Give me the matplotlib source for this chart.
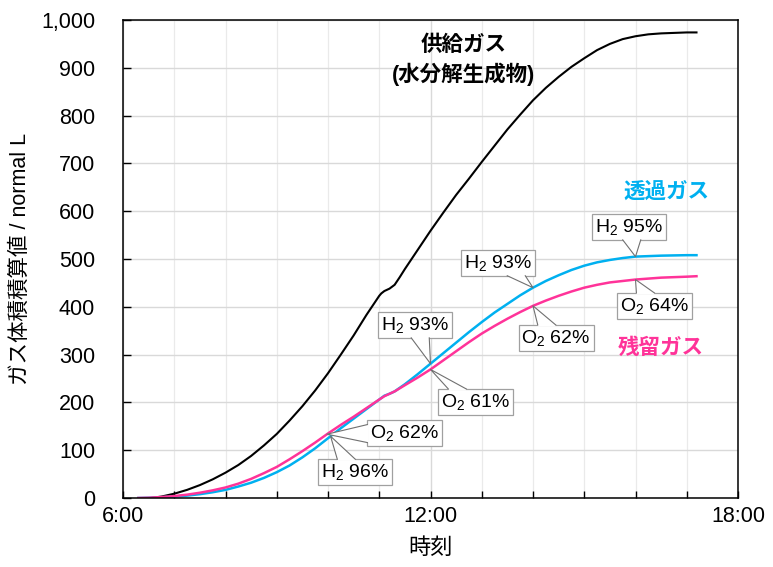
import numpy as np
import matplotlib
matplotlib.use("Agg")
import matplotlib.pyplot as plt
from matplotlib.ticker import MultipleLocator
from matplotlib.patches import Polygon
from matplotlib.lines import Line2D

plt.rcParams['font.family'] = ['Liberation Sans', 'Noto Sans CJK JP', 'DejaVu Sans']
plt.rcParams['mathtext.fontset'] = 'custom'
plt.rcParams['mathtext.rm'] = 'Liberation Sans'
plt.rcParams['mathtext.it'] = 'Liberation Sans:italic'
plt.rcParams['mathtext.bf'] = 'Liberation Sans:bold'

# ---- data (time in hours, cumulative volume in normal L) ----
supply_t = [6.55, 6.75, 7.0, 7.25, 7.5, 7.75, 8.0, 8.25, 8.5, 8.75, 9.0, 9.25, 9.5, 9.75,
            10.0, 10.25, 10.5, 10.75, 11.0, 11.04, 11.1, 11.2, 11.3, 11.4, 11.5, 11.75,
            12.0, 12.25, 12.5, 12.75, 13.0, 13.25, 13.5, 13.75, 14.0, 14.25, 14.5, 14.75,
            15.0, 15.25, 15.5, 15.75, 16.0, 16.25, 16.5, 16.75, 17.0, 17.19]
supply_v = [0, 3, 9, 17, 27, 39, 53, 69, 88, 110, 134, 162, 192, 225,
            261, 300, 340, 383, 423, 428, 433, 438, 446, 462, 479, 519,
            559, 597, 634, 668, 703, 737, 771, 802, 832, 858, 881, 902,
            920, 937, 950, 960, 966, 970, 972, 973, 974, 974]

perm_t = [6.3, 6.5, 6.75, 7.0, 7.25, 7.5, 7.75, 8.0, 8.25, 8.5, 8.75, 9.0, 9.25, 9.5, 9.75,
          10.0, 10.25, 10.5, 10.75, 11.0, 11.1, 11.2, 11.3, 11.5, 11.75, 12.0, 12.25, 12.5,
          12.75, 13.0, 13.25, 13.5, 13.75, 14.0, 14.25, 14.5, 14.75, 15.0, 15.25, 15.5,
          15.75, 16.0, 16.5, 17.0, 17.19]
perm_v = [0, 0.5, 1.5, 3, 5, 8, 12, 17, 24, 32, 42, 54, 68, 85, 104,
          125, 146, 166, 186, 206, 214, 218, 223, 238, 259, 281, 303, 325,
          347, 368, 388, 406, 424, 440, 454, 466, 477, 486, 493, 498,
          502, 505, 507, 508, 508]

ret_t = [6.3, 6.5, 6.75, 7.0, 7.25, 7.5, 7.75, 8.0, 8.25, 8.5, 8.75, 9.0, 9.25, 9.5, 9.75,
         10.0, 10.25, 10.5, 10.75, 11.0, 11.1, 11.2, 11.3, 11.5, 11.75, 12.0, 12.25, 12.5,
         12.75, 13.0, 13.25, 13.5, 13.75, 14.0, 14.25, 14.5, 14.75, 15.0, 15.25, 15.5,
         15.75, 16.0, 16.5, 17.0, 17.19]
ret_v = [0, 0.5, 2, 4, 7, 11, 16, 22, 30, 40, 52, 65, 81, 98, 116,
         135, 153, 170, 188, 206, 213, 218, 223, 236, 252, 269, 288, 307,
         326, 344, 360, 375, 389, 402, 413, 423, 432, 440, 446, 451,
         454, 457, 461, 463, 464]

x_ticks = [6, 12, 18]
x_tick_labels = ["6:00", "12:00", "18:00"]
y_ticks = [0, 100, 200, 300, 400, 500, 600, 700, 800, 900, 1000]
y_tick_labels = ["0", "100", "200", "300", "400", "500", "600", "700", "800", "900", "1,000"]

# annotations: (label, series, anchor time, text time, text value)
notes = [
    (r"H$_2$ 96%", "perm", 10.05, 10.53, 54),
    (r"O$_2$ 62%", "ret", 9.98, 11.50, 136),
    (r"H$_2$ 93%", "perm", 12.0, 11.70, 362),
    (r"O$_2$ 61%", "ret", 12.0, 12.87, 201),
    (r"H$_2$ 93%", "perm", 14.0, 13.32, 492),
    (r"O$_2$ 62%", "ret", 14.0, 14.45, 335),
    (r"H$_2$ 95%", "perm", 16.0, 15.87, 567),
    (r"O$_2$ 64%", "ret", 16.0, 16.38, 402),
]

BLUE = '#00B0F0'
PINK = '#FF3399'

fig = plt.figure(figsize=(7.73, 5.67), dpi=100)
ax = fig.add_axes([123/773, 1-498/567, 615/773, 478/567])

ax.plot(supply_t, supply_v, color='black', lw=1.5, zorder=2)
ax.plot(perm_t, perm_v, color=BLUE, lw=1.8, zorder=2)
ax.plot(ret_t, ret_v, color=PINK, lw=1.8, zorder=2)

ax.set_xlim(6, 18)
ax.set_ylim(0, 1000)
ax.set_xticks(x_ticks)
ax.set_xticklabels(x_tick_labels)
ax.xaxis.set_minor_locator(MultipleLocator(1))
ax.set_yticks(y_ticks)
ax.set_yticklabels(y_tick_labels)

ax.tick_params(axis='both', which='both', direction='in', color='black')
ax.tick_params(axis='x', which='major', length=5, width=1, pad=6, labelsize=15.5)
ax.tick_params(axis='x', which='minor', length=5, width=1)
ax.tick_params(axis='y', which='major', length=6, width=1, pad=20, labelsize=15.5)

ax.set_axisbelow(True)
ax.grid(axis='y', which='major', color='#D9D9D9', lw=1.0)
ax.grid(axis='x', which='major', color='#D9D9D9', lw=1.0)
ax.grid(axis='x', which='minor', color='#EAEAEA', lw=0.9)

for s in ax.spines.values():
    s.set_color('black')
    s.set_linewidth(1.1)

ax.set_xlabel("時刻", fontsize=16, va='center')
ax.xaxis.set_label_coords(0.5, -0.105)
ax.set_ylabel("ガス体積積算値 / normal L", fontsize=15.5, va='center')
ax.yaxis.set_label_coords(-0.1675, 0.5)

series = {"perm": (perm_t, perm_v), "ret": (ret_t, ret_v)}
boxes = []
for label, key, ta, tx, vy in notes:
    st, sv = series[key]
    va_ = float(np.interp(ta, st, sv))
    t = ax.text(tx, vy, label, fontsize=14, ha='center', va='center', zorder=5,
                bbox=dict(boxstyle='square,pad=0.15', fc='white', ec='#A0A0A0', lw=0.9))
    boxes.append((t, ta, va_))

ax.text(12.65, 946, "供給ガス", fontsize=15.5, fontweight='bold', ha='center', va='center',
        color='black', zorder=6)
ax.text(12.65, 887, "(水分解生成物)", fontsize=15.5, fontweight='bold', ha='center', va='center',
        color='black', zorder=6)
ax.text(16.6, 640, "透過ガス", fontsize=15.5, fontweight='bold', ha='center', va='center',
        color=BLUE, zorder=6)
ax.text(16.5, 312, "残留ガス", fontsize=15.5, fontweight='bold', ha='center', va='center',
        color=PINK, zorder=6)

# callout wedges (computed in display space from each box and its anchor)
fig.canvas.draw()
renderer = fig.canvas.get_renderer()
inv = ax.transData.inverted()
half_base = 9.0
for t, ta, va_ in boxes:
    bb = t.get_bbox_patch().get_window_extent(renderer)
    cx, cy = (bb.x0 + bb.x1) / 2, (bb.y0 + bb.y1) / 2
    hw, hh = bb.width / 2, bb.height / 2
    axp, ayp = ax.transData.transform((ta, va_))
    dx, dy = axp - cx, ayp - cy
    sx = hw / abs(dx) if dx != 0 else np.inf
    sy = hh / abs(dy) if dy != 0 else np.inf
    if sy <= sx:
        s = sy
        ex = cx + s * dx
        ey = cy + s * dy
        e1 = (np.clip(ex - half_base, bb.x0 + 1, bb.x1 - 1), ey)
        e2 = (np.clip(ex + half_base, bb.x0 + 1, bb.x1 - 1), ey)
        inset = (0, -1.5 if dy > 0 else 1.5)
    else:
        s = sx
        ex = cx + s * dx
        ey = cy + s * dy
        e1 = (ex, np.clip(ey - half_base, bb.y0 + 1, bb.y1 - 1))
        e2 = (ex, np.clip(ey + half_base, bb.y0 + 1, bb.y1 - 1))
        inset = (-1.5 if dx > 0 else 1.5, 0)
    p1 = inv.transform(e1)
    p2 = inv.transform(e2)
    p1i = inv.transform((e1[0] + inset[0], e1[1] + inset[1]))
    p2i = inv.transform((e2[0] + inset[0], e2[1] + inset[1]))
    ax.add_patch(Polygon([p1i, p1, (ta, va_), p2, p2i], closed=True, fc='white',
                         ec='none', zorder=6))
    ax.add_line(Line2D([p1[0], ta, p2[0]], [p1[1], va_, p2[1]], color='#707070',
                       lw=0.8, zorder=7))

fig.savefig("out.png", dpi=100)
